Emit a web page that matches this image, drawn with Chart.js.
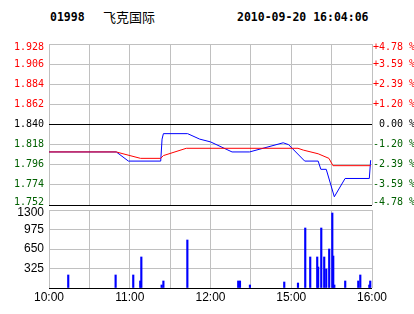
<!DOCTYPE html>
<html>
<head>
<meta charset="utf-8">
<script src="https://cdn.jsdelivr.net/npm/chart.js@4/dist/chart.umd.min.js"></script>
<style>
  html, body { margin: 0; padding: 0; background: #fff; }
  body { width: 414px; height: 314px; position: relative; overflow: hidden; }
  .hdr { position: absolute; top: 9px; font: bold 11.5px "DejaVu Sans Mono", monospace; color: #000; line-height: 16px; white-space: nowrap; }
  .name { font: 13px "Noto Sans CJK SC", sans-serif; top: 8px; line-height: 18px; }
  #c1 { position: absolute; left: 0; top: 0; }
  #c2 { position: absolute; left: 0; top: 195px; }
</style>
</head>
<body>
<div class="hdr" style="left:50px">01998</div>
<div class="hdr name" style="left:103px">飞克国际</div>
<div class="hdr" style="left:237px">2010-09-20 16:04:06</div>
<canvas id="c1" width="414" height="216"></canvas>
<canvas id="c2" width="414" height="119"></canvas>
<script>
// ---- data (minutes since 10:00 on the trading clock) ----
const previousClose = 1.840;
const priceMinutes = [0, 50, 59, 83, 84, 85, 103, 112, 120, 136, 149, 174, 178, 190, 200, 202, 206, 212, 220, 238, 239];
const priceValues  = [1.810, 1.810, 1.800, 1.800, 1.824, 1.830, 1.830, 1.824, 1.821, 1.810, 1.810, 1.820, 1.818, 1.800, 1.800, 1.791, 1.791, 1.761, 1.781, 1.781, 1.801];
const avgMinutes = [0, 50, 55, 68, 83, 85, 102, 185, 189, 200, 208, 211, 239];
const avgValues  = [1.810, 1.810, 1.808, 1.803, 1.803, 1.806, 1.814, 1.814, 1.812, 1.808, 1.803, 1.795, 1.795];
const volumeMinutes = [14.3, 49.5, 62.6, 67.8, 68.6, 83.7, 85, 102.8, 140.6, 141.9, 149.3, 174.8, 185, 190.4, 194.1, 199.3, 200, 202.3, 204.5, 206, 208.2, 210.5, 211.2, 212, 220.1, 229.8, 231.3, 238, 238.7];
const volumeValues  = [217, 217, 217, 117, 517, 50, 117, 800, 117, 117, 50, 100, 83, 1000, 517, 517, 350, 1000, 517, 317, 650, 1250, 533, 50, 117, 117, 217, 50, 117];
const timeTickMinutes = [0, 30, 60, 90, 120, 150, 180, 210, 240];
const timeTickLabels  = ['10:00', '', '11:00', '', '12:00', '', '15:00', '', '16:00'];
const priceMin = 1.752, priceMax = 1.928, priceStep = 0.022;
const volumeMax = 1300, volumeStep = 325;

const GRID = '#c0c0c0';
const RED = '#ff0000', GREEN = '#006000', BLUE = '#0000ff';

function priceColor(v) {
  if (v > previousClose + 1e-6) return RED;
  if (v < previousClose - 1e-6) return GREEN;
  return '#000';
}
function fixedTimeTicks(scale) {
  scale.ticks = timeTickMinutes.map(v => ({ value: v }));
}
// keep the end labels of vertical axes inside the plot band
const edgeLabelPlugin = {
  id: 'edgeLabels',
  beforeDraw(chart) {
    Object.values(chart.scales).forEach(scale => {
      if (scale.axis !== 'y') return;
      const items = scale.getLabelItems();
      if (!items.length || scale._edgeShifted) return;
      const n = items.length;
      const first = items[0].options.translation, last = items[n - 1].options.translation;
      // item 0 = bottom (minimum), last = top (maximum)
      if (first) first[1] -= 3;
      if (last) last[1] += 3;
      scale._edgeShifted = true;
    });
  }
};

new Chart(document.getElementById('c1'), {
  type: 'line',
  plugins: [edgeLabelPlugin],
  data: {
    datasets: [
      { label: 'avg', data: avgMinutes.map((m, i) => ({ x: m, y: avgValues[i] })), borderColor: RED, borderWidth: 1, pointRadius: 0, tension: 0, yAxisID: 'y' },
      { label: 'price', data: priceMinutes.map((m, i) => ({ x: m, y: priceValues[i] })), borderColor: BLUE, borderWidth: 1, pointRadius: 0, tension: 0, yAxisID: 'y' }
    ]
  },
  options: {
    responsive: false, animation: false, events: [],
    layout: { padding: { top: 44, bottom: 1, left: 0, right: 0 } },
    plugins: { legend: { display: false }, tooltip: { enabled: false } },
    scales: {
      x: {
        type: 'linear', min: 0, max: 240,
        afterBuildTicks: fixedTimeTicks,
        ticks: { display: false },
        grid: { color: GRID, drawTicks: false },
        border: { display: false },
        afterFit: s => { s.height = 0; }
      },
      y: {
        position: 'left', min: priceMin, max: priceMax,
        ticks: {
          stepSize: priceStep, padding: 5,
          font: { family: 'DejaVu Sans Mono', size: 10 },
          color: ctx => priceColor(ctx.tick.value),
          callback: v => v.toFixed(3)
        },
        grid: {
          drawTicks: false,
          color: ctx => (Math.abs(ctx.tick.value - previousClose) < 1e-6 || Math.abs(ctx.tick.value - priceMin) < 1e-6) ? '#000' : GRID
        },
        border: { display: false },
        afterFit: s => { s.width = 49; }
      },
      y1: {
        position: 'right', min: priceMin, max: priceMax,
        ticks: {
          stepSize: priceStep, padding: 1,
          font: { family: 'DejaVu Sans Mono', size: 10 },
          color: ctx => priceColor(ctx.tick.value),
          callback: v => {
            const p = (v - previousClose) / previousClose * 100;
            const r = Math.round(p * 100) / 100;
            if (Math.abs(r) < 0.005) return ' 0.00 %';
            return (r > 0 ? '+' : '-') + Math.abs(r).toFixed(2) + ' %';
          }
        },
        grid: { display: false, drawTicks: false },
        border: { display: false },
        afterFit: s => { s.width = 42; }
      }
    }
  }
});

new Chart(document.getElementById('c2'), {
  type: 'bar',
  plugins: [edgeLabelPlugin],
  data: {
    datasets: [
      { label: 'volume', data: volumeMinutes.map((m, i) => ({ x: m, y: volumeValues[i] })), backgroundColor: BLUE, borderWidth: 0, barThickness: 1.5 }
    ]
  },
  options: {
    responsive: false, animation: false, events: [],
    layout: { padding: { top: 15, bottom: 0, left: 0, right: 42 } },
    plugins: { legend: { display: false }, tooltip: { enabled: false } },
    scales: {
      x: {
        type: 'linear', min: 0, max: 240, offset: false,
        afterBuildTicks: fixedTimeTicks,
        ticks: {
          autoSkip: false, maxRotation: 0, padding: 2,
          font: { family: 'Liberation Sans', size: 12 }, color: '#000',
          callback: (v, i) => timeTickLabels[i]
        },
        grid: { color: GRID, drawTicks: false, offset: false },
        border: { display: false },
        afterFit: s => { s.height = 26; }
      },
      y: {
        position: 'left', min: 0, max: volumeMax,
        ticks: {
          stepSize: volumeStep, padding: 5,
          font: { family: 'Liberation Sans', size: 12 }, color: '#000',
          callback: v => v === 0 ? '' : String(v)
        },
        grid: { drawTicks: false, color: ctx => ctx.tick.value === 0 ? '#000' : GRID },
        border: { display: false },
        afterFit: s => { s.width = 49; }
      }
    }
  }
});
</script>
</body>
</html>
